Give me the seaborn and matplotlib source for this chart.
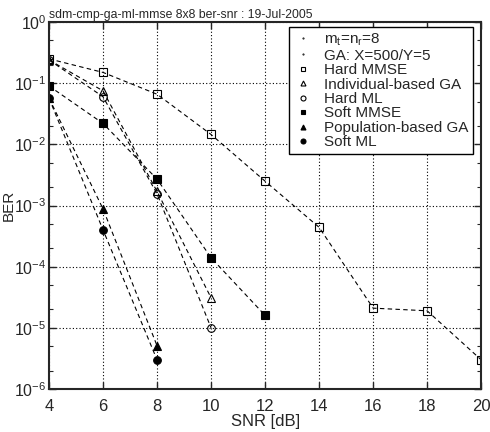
import numpy as np
import pandas as pd
import matplotlib
matplotlib.use("Agg")
import matplotlib.pyplot as plt
import seaborn as sns
from matplotlib.ticker import LogLocator, FixedLocator, NullFormatter

# -----------------------------------
# Data
# -----------------------------------
snr_hard_mmse = [4, 6, 8, 10, 12, 14, 16, 18, 20]
ber_hard_mmse = [0.25, 0.15, 0.066, 0.0145, 0.0025, 0.00044, 2.1e-5, 1.9e-5, 3.0e-6]

snr_ind_ga = [4, 6, 8, 10]
ber_ind_ga = [0.24, 0.075, 0.0017, 3.1e-5]

snr_hard_ml = [4, 6, 8, 10]
ber_hard_ml = [0.24, 0.06, 0.00155, 1.0e-5]

snr_soft_mmse = [4, 6, 8, 10, 12]
ber_soft_mmse = [0.09, 0.022, 0.0027, 0.00014, 1.6e-5]

snr_pop_ga = [4, 6, 8]
ber_pop_ga = [0.057, 0.00088, 5.1e-6]

snr_soft_ml = [4, 6, 8]
ber_soft_ml = [0.057, 0.0004, 3.0e-6]

series = [
    ("Hard MMSE", snr_hard_mmse, ber_hard_mmse, "s", "none"),
    ("Individual-based GA", snr_ind_ga, ber_ind_ga, "^", "none"),
    ("Hard ML", snr_hard_ml, ber_hard_ml, "o", "none"),
    ("Soft MMSE", snr_soft_mmse, ber_soft_mmse, "s", "black"),
    ("Population-based GA", snr_pop_ga, ber_pop_ga, "^", "black"),
    ("Soft ML", snr_soft_ml, ber_soft_ml, "o", "black"),
]

x_ticks = [4, 6, 8, 10, 12, 14, 16, 18, 20]

# -----------------------------------
# Style
# -----------------------------------
sns.set_style("ticks")
plt.rcParams["font.family"] = ["Liberation Sans", "DejaVu Sans"]
plt.rcParams["mathtext.fontset"] = "custom"
plt.rcParams["mathtext.rm"] = "Liberation Sans"
plt.rcParams["mathtext.it"] = "Liberation Sans"

fig = plt.figure(figsize=(4.9, 4.32), dpi=100)
ax = fig.add_axes([0.1, 0.0995, 0.882, 0.8495])

# dummy entries for the header lines of the legend
ax.plot([], [], ".", color="black", markersize=1.5, label=r"m$_t$=n$_r$=8")
ax.plot([], [], ".", color="black", markersize=1.5, label="GA: X=500/Y=5")

for name, xs, ys, mk, fc in series:
    df = pd.DataFrame({"snr": xs, "ber": ys})
    sns.lineplot(
        data=df, x="snr", y="ber", ax=ax,
        color="black", linewidth=0.8, linestyle=(0, (4, 3)),
        marker=mk, markersize=5.5, markerfacecolor=fc,
        markeredgecolor="black", markeredgewidth=0.8,
        label=name,
    )

ax.set_yscale("log")
ax.set_xlim(4, 20)
ax.set_ylim(1e-6, 1)
ax.xaxis.set_major_locator(FixedLocator(x_ticks))
ax.yaxis.set_major_locator(LogLocator(base=10, numticks=10))
ax.yaxis.set_minor_locator(LogLocator(base=10, subs=(2.0, 5.0), numticks=10))
ax.yaxis.set_minor_formatter(NullFormatter())

ax.grid(True, which="major", color="black", linestyle=(0, (1, 2)), linewidth=0.8)
ax.tick_params(which="both", direction="in", top=True, right=True)
ax.tick_params(axis="x", which="major", pad=7, labelsize=12)
ax.tick_params(axis="y", which="major", pad=2, labelsize=11.5)
ax.tick_params(which="major", length=5, width=1)
ax.tick_params(which="minor", length=3, width=0.8)
for sp in ax.spines.values():
    sp.set_linewidth(1.5)

ax.set_xlabel("SNR [dB]", fontsize=12, labelpad=0)
ax.set_ylabel("BER", fontsize=11)
ax.yaxis.set_label_coords(-0.076, 0.5)
ax.set_title("sdm-cmp-ga-ml-mmse 8x8 ber-snr : 19-Jul-2005",
             fontsize=8.8, loc="left", pad=3)

leg = ax.legend(loc="upper right", fontsize=11, frameon=True, fancybox=False,
                edgecolor="black", framealpha=1, labelspacing=0.03,
                handlelength=1.2, handletextpad=0.8, borderpad=0.3,
                borderaxespad=0, markerscale=0.65,
                bbox_to_anchor=(0.981, 0.986))
leg.get_frame().set_linewidth(1.0)
for h in leg.get_lines():
    h.set_linestyle("none")

fig.savefig("out.png", dpi=100)
